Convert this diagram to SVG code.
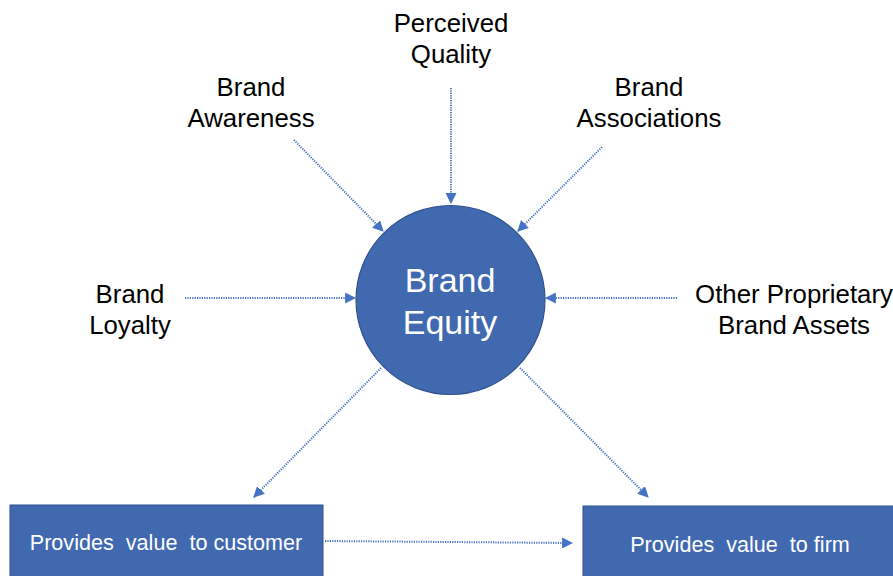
<svg xmlns="http://www.w3.org/2000/svg" width="893" height="576" viewBox="0 0 893 576">
<defs>
<marker id="ah" viewBox="0 0 10 10" refX="9" refY="5" markerWidth="5.5" markerHeight="5.5" orient="auto" markerUnits="strokeWidth">
<path d="M0,0 L10,5 L0,10 z" fill="#4472C4"/>
</marker>
<style>
.lbl{font-family:"Liberation Sans",Arial,sans-serif;font-size:25.8px;fill:#000;text-anchor:middle}
.wt{font-family:"Liberation Sans",Arial,sans-serif;fill:#fff;text-anchor:middle}
.c{stroke:#4472C4;stroke-width:2;stroke-dasharray:1.2 1.2;fill:none;marker-end:url(#ah)}
.box{fill:#4169B0;stroke:#2F528F;stroke-width:1}
</style>
</defs>
<rect width="893" height="576" fill="#fff"/>
<g id="connectors">
<line class="c" x1="294" y1="140" x2="383" y2="231"/>
<line class="c" x1="451" y1="88" x2="451" y2="203"/>
<line class="c" x1="602" y1="147" x2="518" y2="231"/>
<line class="c" x1="185" y1="298" x2="355" y2="298"/>
<line class="c" x1="677" y1="298" x2="546" y2="298"/>
<line class="c" x1="381" y1="368" x2="254" y2="497"/>
<line class="c" x1="520" y1="368" x2="648" y2="497"/>
<line class="c" x1="325" y1="541" x2="572" y2="543"/>
</g>
<g id="brand-equity">
<circle cx="450.5" cy="300" r="94.5" fill="#4169B0" stroke="#2F528F" stroke-width="1.2"/>
<text class="wt" x="450" y="292" font-size="34">Brand</text>
<text class="wt" x="450" y="334" font-size="34">Equity</text>
</g>
<g id="perceived-quality">
<text class="lbl" x="451" y="32">Perceived</text>
<text class="lbl" x="451" y="63">Quality</text>
</g>
<g id="brand-awareness">
<text class="lbl" x="251" y="96">Brand</text>
<text class="lbl" x="251" y="127">Awareness</text>
</g>
<g id="brand-associations">
<text class="lbl" x="649" y="96">Brand</text>
<text class="lbl" x="649" y="127">Associations</text>
</g>
<g id="brand-loyalty">
<text class="lbl" x="130" y="303">Brand</text>
<text class="lbl" x="130" y="334">Loyalty</text>
</g>
<g id="other-assets">
<text class="lbl" x="794" y="303">Other Proprietary</text>
<text class="lbl" x="794" y="334">Brand Assets</text>
</g>
<g id="value-customer">
<rect class="box" x="10" y="505" width="313" height="80"/>
<text class="wt" x="166" y="550" font-size="21.6" xml:space="preserve">Provides  value  to customer</text>
</g>
<g id="value-firm">
<rect class="box" x="583" y="506" width="320" height="80"/>
<text class="wt" x="740" y="552" font-size="21.6" xml:space="preserve">Provides  value  to firm</text>
</g>
</svg>
